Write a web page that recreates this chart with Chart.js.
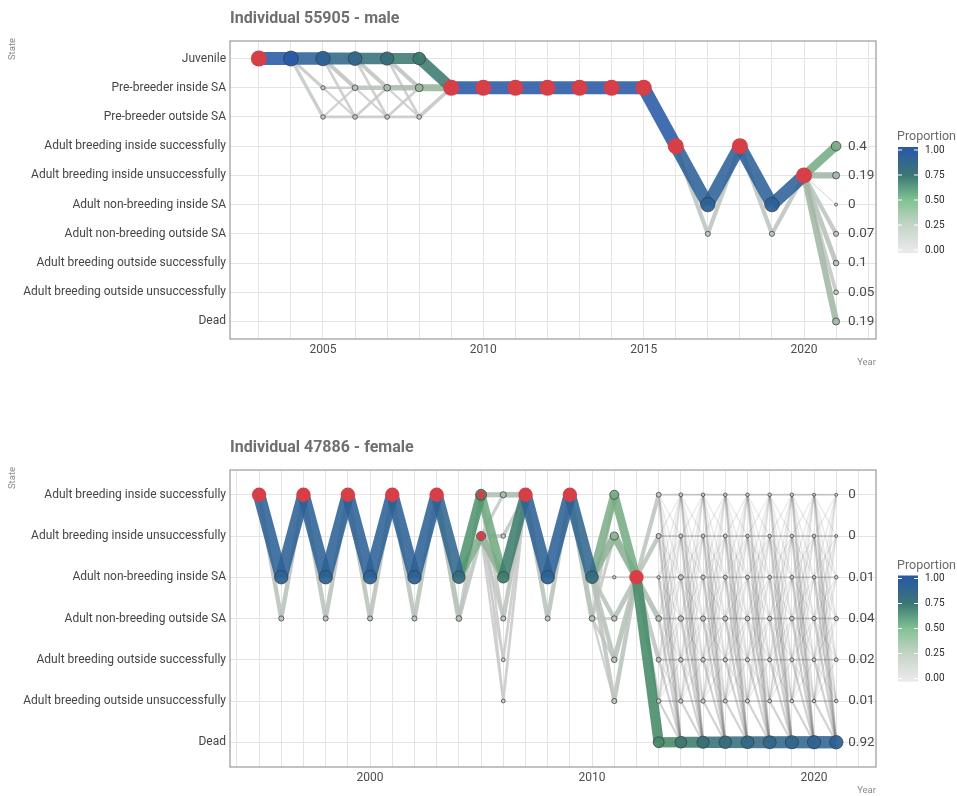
<!DOCTYPE html>
<html lang="en">
<head>
<meta charset="UTF-8">
<title>State trajectories of two individuals</title>
<script src="https://cdn.jsdelivr.net/npm/chart.js"></script>
<style>
  body { margin: 0; background: #fff; }
  canvas { position: absolute; left: 0; }
  #maleChart { top: 0; }
  #femaleChart { top: 400px; }
</style>
</head>
<body>
<canvas id="maleChart" width="957" height="400"></canvas>
<canvas id="femaleChart" width="957" height="396"></canvas>
<script>
const _ = null;

// ---------- Individual 55905 - male ----------
const maleStates = [
  'Juvenile', 'Pre-breeder inside SA', 'Pre-breeder outside SA',
  'Adult breeding inside successfully', 'Adult breeding inside unsuccessfully',
  'Adult non-breeding inside SA', 'Adult non-breeding outside SA',
  'Adult breeding outside successfully', 'Adult breeding outside unsuccessfully', 'Dead'
];
const maleYears = [2003, 2004, 2005, 2006, 2007, 2008, 2009, 2010, 2011, 2012,
                   2013, 2014, 2015, 2016, 2017, 2018, 2019, 2020, 2021];
// observed states: [year, state index, marker size]
const maleObserved = [
  [2003, 0, 1], [2009, 1, 1], [2010, 1, 1], [2011, 1, 1], [2012, 1, 1], [2013, 1, 1],
  [2014, 1, 1], [2015, 1, 1], [2016, 3, 1], [2018, 3, 1], [2020, 4, 1]
];
// estimated proportion per state, one row per year (null row = observed year)
const maleProps = [
  _,
  [1, _, _, _, _, _, _, _, _, _],
  [0.93, 0.03, 0.04, _, _, _, _, _, _, _],
  [0.85, 0.1, 0.05, _, _, _, _, _, _, _],
  [0.78, 0.17, 0.05, _, _, _, _, _, _, _],
  [0.7, 0.25, 0.05, _, _, _, _, _, _, _],
  _, _, _, _, _, _, _, _,
  [_, _, _, _, _, 0.93, 0.07, _, _, _],
  _,
  [_, _, _, _, _, 0.93, 0.07, _, _, _],
  _,
  [_, _, _, 0.4, 0.19, 0, 0.07, 0.1, 0.05, 0.19]
];
// transitions: [from year, from state, to state (next year), proportion]
const maleLinks = [
  [2003, 0, 0, 1],
  [2004, 0, 0, 0.93], [2004, 0, 1, 0.03], [2004, 0, 2, 0.04],
  [2005, 0, 0, 0.85], [2005, 0, 1, 0.07], [2005, 0, 2, 0.02], [2005, 1, 1, 0.02],
  [2005, 1, 2, 0.01], [2005, 2, 1, 0.01], [2005, 2, 2, 0.02],
  [2006, 0, 0, 0.78], [2006, 0, 1, 0.06], [2006, 0, 2, 0.02], [2006, 1, 1, 0.08],
  [2006, 1, 2, 0.01], [2006, 2, 1, 0.02], [2006, 2, 2, 0.02],
  [2007, 0, 0, 0.7], [2007, 0, 1, 0.07], [2007, 0, 2, 0.02], [2007, 1, 1, 0.15],
  [2007, 1, 2, 0.01], [2007, 2, 1, 0.02], [2007, 2, 2, 0.02],
  [2008, 0, 1, 0.7], [2008, 1, 1, 0.25], [2008, 2, 1, 0.05],
  [2009, 1, 1, 1], [2010, 1, 1, 1], [2011, 1, 1, 1], [2012, 1, 1, 1],
  [2013, 1, 1, 1], [2014, 1, 1, 1], [2015, 1, 3, 1],
  [2016, 3, 5, 0.93], [2016, 3, 6, 0.07],
  [2017, 5, 3, 0.93], [2017, 6, 3, 0.07],
  [2018, 3, 5, 0.93], [2018, 3, 6, 0.07],
  [2019, 5, 4, 0.93], [2019, 6, 4, 0.07],
  [2020, 4, 3, 0.4], [2020, 4, 4, 0.19], [2020, 4, 5, 0], [2020, 4, 6, 0.07],
  [2020, 4, 7, 0.1], [2020, 4, 8, 0.05], [2020, 4, 9, 0.19]
];

// ---------- Individual 47886 - female ----------
const femaleStates = [
  'Adult breeding inside successfully', 'Adult breeding inside unsuccessfully',
  'Adult non-breeding inside SA', 'Adult non-breeding outside SA',
  'Adult breeding outside successfully', 'Adult breeding outside unsuccessfully', 'Dead'
];
const femaleYears = [1995, 1996, 1997, 1998, 1999, 2000, 2001, 2002, 2003, 2004, 2005,
                     2006, 2007, 2008, 2009, 2010, 2011, 2012, 2013, 2014, 2015, 2016,
                     2017, 2018, 2019, 2020, 2021];
const femaleObserved = [
  [1995, 0, 1], [1997, 0, 1], [1999, 0, 1], [2001, 0, 1], [2003, 0, 1],
  [2005, 0, 0.55], [2005, 1, 0.55], [2007, 0, 1], [2009, 0, 1], [2012, 2, 1]
];
const femaleProps = [
  _,
  [_, _, 0.92, 0.08, _, _, _],
  _,
  [_, _, 0.92, 0.08, _, _, _],
  _,
  [_, _, 0.92, 0.08, _, _, _],
  _,
  [_, _, 0.92, 0.08, _, _, _],
  _,
  [_, _, 0.8, 0.12, _, _, _],
  [0.6, 0.4, _, _, _, _, _],
  [0.15, 0.05, 0.68, 0.08, 0.02, 0.02, _],
  _,
  [_, _, 0.92, 0.08, _, _, _],
  _,
  [_, _, 0.8, 0.12, _, _, _],
  [0.4, 0.3, 0.005, 0.1, 0.11, 0.08, _],
  _,
  [0.07, 0.08, 0.005, 0.12, 0.07, 0.05, 0.6],
  [0.02, 0.03, 0.08, 0.1, 0.05, 0.04, 0.7],
  [0.01, 0.02, 0.04, 0.08, 0.05, 0.04, 0.76],
  [0.01, 0.02, 0.03, 0.07, 0.04, 0.03, 0.8],
  [0.01, 0.01, 0.03, 0.06, 0.03, 0.03, 0.83],
  [0.01, 0.01, 0.02, 0.05, 0.03, 0.02, 0.86],
  [0.01, 0.01, 0.02, 0.05, 0.02, 0.01, 0.88],
  [0, 0.01, 0.01, 0.04, 0.02, 0.01, 0.9],
  [0, 0, 0.01, 0.04, 0.02, 0.01, 0.92]
];
const femaleLinks = [
  [1995, 0, 2, 0.92], [1995, 0, 3, 0.08], [1996, 2, 0, 0.92], [1996, 3, 0, 0.08],
  [1997, 0, 2, 0.92], [1997, 0, 3, 0.08], [1998, 2, 0, 0.92], [1998, 3, 0, 0.08],
  [1999, 0, 2, 0.92], [1999, 0, 3, 0.08], [2000, 2, 0, 0.92], [2000, 3, 0, 0.08],
  [2001, 0, 2, 0.92], [2001, 0, 3, 0.08], [2002, 2, 0, 0.92], [2002, 3, 0, 0.08],
  [2003, 0, 2, 0.88], [2003, 0, 3, 0.12],
  [2004, 2, 0, 0.55], [2004, 2, 1, 0.33], [2004, 3, 0, 0.05], [2004, 3, 1, 0.07],
  [2005, 0, 2, 0.42], [2005, 0, 0, 0.12], [2005, 0, 3, 0.04], [2005, 0, 4, 0.01],
  [2005, 0, 5, 0.01], [2005, 1, 2, 0.26], [2005, 1, 1, 0.05], [2005, 1, 0, 0.03],
  [2005, 1, 3, 0.04], [2005, 1, 4, 0.01], [2005, 1, 5, 0.01],
  [2006, 2, 0, 0.68], [2006, 0, 0, 0.15], [2006, 1, 0, 0.05], [2006, 3, 0, 0.08],
  [2006, 4, 0, 0.02], [2006, 5, 0, 0.02],
  [2007, 0, 2, 0.92], [2007, 0, 3, 0.08], [2008, 2, 0, 0.92], [2008, 3, 0, 0.08],
  [2009, 0, 2, 0.88], [2009, 0, 3, 0.12],
  [2010, 2, 0, 0.36], [2010, 2, 1, 0.27], [2010, 2, 2, 0.005], [2010, 2, 3, 0.08],
  [2010, 2, 4, 0.09], [2010, 2, 5, 0.07], [2010, 3, 0, 0.04], [2010, 3, 1, 0.03],
  [2010, 3, 3, 0.02], [2010, 3, 4, 0.02], [2010, 3, 5, 0.01],
  [2011, 0, 2, 0.4], [2011, 1, 2, 0.3], [2011, 2, 2, 0.005], [2011, 3, 2, 0.1],
  [2011, 4, 2, 0.11], [2011, 5, 2, 0.08],
  [2012, 2, 0, 0.07], [2012, 2, 1, 0.08], [2012, 2, 2, 0.005], [2012, 2, 3, 0.12],
  [2012, 2, 4, 0.07], [2012, 2, 5, 0.05], [2012, 2, 6, 0.6],
  [2013, 6, 6, 0.6], [2014, 6, 6, 0.7], [2015, 6, 6, 0.76], [2016, 6, 6, 0.8],
  [2017, 6, 6, 0.83], [2018, 6, 6, 0.86], [2019, 6, 6, 0.88], [2020, 6, 6, 0.9]
];
// from this year on every reachable state is linked to every state of the next year
const femaleWebFrom = 2013;

// colours
const markStops = [[0, [204, 204, 204]], [0.2, [160, 182, 163]], [0.45, [108, 170, 124]],
                   [0.6, [68, 138, 104]], [0.75, [56, 114, 116]], [1, [40, 90, 166]]];
const legendStops = [[0, [232, 232, 232]], [0.25, [197, 212, 199]], [0.5, [128, 194, 146]],
                     [0.75, [60, 118, 116]], [1, [42, 90, 164]]];
const RED = '#d63f48';
const GRID = '#e4e4e4';

function mix(stops, p) {
  p = Math.max(0, Math.min(1, p));
  for (let i = 1; i < stops.length; i++) {
    if (p <= stops[i][0]) {
      const [p0, c0] = stops[i - 1], [p1, c1] = stops[i];
      const t = (p - p0) / (p1 - p0);
      return c0.map((v, k) => v + (c1[k] - v) * t);
    }
  }
  return stops[stops.length - 1][1];
}
function rgba(c, a) {
  return `rgba(${Math.round(c[0])},${Math.round(c[1])},${Math.round(c[2])},${a})`;
}

function segment(x0, s0, x1, s1, color, width) {
  return {
    data: [{ x: x0, y: s0 }, { x: x1, y: s1 }],
    showLine: true, borderColor: color, borderWidth: width,
    borderCapStyle: 'butt', pointRadius: 0, pointHoverRadius: 0, fill: false
  };
}

const extras = {
  id: 'extras',
  afterDraw(chart) {
    const c = chart.options.plugins.extras;
    const ctx = chart.ctx;
    const a = chart.chartArea;
    const xs = chart.scales.x, ys = chart.scales.y;
    ctx.save();
    // panel border
    ctx.strokeStyle = '#9a9a9a';
    ctx.lineWidth = 1.2;
    ctx.strokeRect(a.left, a.top, a.right - a.left, a.bottom - a.top);
    // title
    ctx.fillStyle = '#6f6f6f';
    ctx.font = 'bold 16px Roboto';
    ctx.textAlign = 'left';
    ctx.textBaseline = 'middle';
    ctx.fillText(c.title, a.left, a.top - 22);
    // axis titles
    ctx.fillStyle = '#8a8a8a';
    ctx.font = '9.5px Roboto';
    ctx.textAlign = 'right';
    ctx.fillText('Year', a.right, a.bottom + 24);
    ctx.save();
    ctx.translate(13, a.top + 8);
    ctx.rotate(-Math.PI / 2);
    ctx.textAlign = 'center';
    ctx.fillText('State', 0, 0);
    ctx.restore();
    // end-of-series proportions
    const last = c.props[c.props.length - 1];
    const lastYear = c.years[c.years.length - 1];
    ctx.fillStyle = '#4a4a4a';
    ctx.font = '13.5px Roboto';
    ctx.textAlign = 'left';
    last.forEach((p, s) => {
      if (p === null) return;
      ctx.fillText(String(+p.toFixed(2)), xs.getPixelForValue(lastYear) + 12, ys.getPixelForValue(s));
    });
    // colour bar legend
    const mid = (a.top + a.bottom) / 2 + 10;
    const bx = 898, bw = 20;
    const y1 = mid - 50, y0 = mid + 50;
    ctx.fillStyle = '#6a6a6a';
    ctx.font = '12.5px Roboto';
    ctx.fillText('Proportion', 897, mid - 63);
    const g = ctx.createLinearGradient(0, y0, 0, y1);
    legendStops.forEach(([p, col]) => g.addColorStop(p, rgba(col, 1)));
    ctx.fillStyle = g;
    ctx.fillRect(bx, y1 - 3, bw, 106);
    ctx.strokeStyle = '#ffffff';
    ctx.lineWidth = 1;
    ctx.fillStyle = '#2b2b2b';
    ctx.font = '10px Roboto';
    [0, 0.25, 0.5, 0.75, 1].forEach(v => {
      const y = y0 - v * 100;
      ctx.beginPath();
      ctx.moveTo(bx, y); ctx.lineTo(bx + 4, y);
      ctx.moveTo(bx + bw - 4, y); ctx.lineTo(bx + bw, y);
      ctx.stroke();
      ctx.fillText(v.toFixed(2), 925, y);
    });
    ctx.restore();
  }
};

function buildChart(id, c) {
  const dead = c.states.indexOf('Dead');
  const lastYear = c.years[c.years.length - 1];
  const rowOf = yr => c.props[c.years.indexOf(yr)];

  // estimated states
  const pts = [], pr = [], pf = [];
  c.years.forEach((yr, i) => {
    const row = c.props[i];
    if (!row) return;
    row.forEach((p, s) => {
      if (p === null) return;
      pts.push({ x: yr, y: s });
      pr.push(1.5 + (c.rMax - 1.5) * Math.pow(p, 0.65));
      pf.push(rgba(mix(markStops, p), 0.95));
    });
  });

  const links = c.links.slice().sort((l1, l2) => l2[3] - l1[3]).map(l =>
    segment(l[0], l[1], l[0] + 1, l[2], rgba(mix(markStops, l[3]), 0.88), 1 + 12 * Math.sqrt(l[3])));

  // faint web between all reachable states (drawn underneath)
  const webStrong = [], web = [];
  if (c.webFrom) {
    for (let yr = c.webFrom; yr < lastYear; yr++) {
      const from = rowOf(yr), to = rowOf(yr + 1);
      from.forEach((pa, s0) => {
        if (pa === null || s0 === dead) return;
        to.forEach((pb, s1) => {
          if (pb === null) return;
          if (c.links.some(l => l[0] === yr && l[1] === s0 && l[2] === s1)) return;
          if (s1 === dead) webStrong.push(segment(yr, s0, yr + 1, s1, 'rgba(105,105,105,0.3)', 2.2));
          else if (s1 === s0) webStrong.push(segment(yr, s0, yr + 1, s1, 'rgba(110,110,110,0.28)', 2));
          else web.push(segment(yr, s0, yr + 1, s1, 'rgba(120,120,120,0.16)', 1.4));
        });
      });
    }
  }

  const datasets = [
    {
      data: c.observed.map(o => ({ x: o[0], y: o[1] })),
      pointRadius: c.observed.map(o => c.rRed * o[2]),
      pointBackgroundColor: RED, pointBorderWidth: 0, pointHoverRadius: 0
    },
    {
      data: pts, pointRadius: pr, pointBackgroundColor: pf,
      pointBorderColor: 'rgba(60,60,60,0.75)', pointBorderWidth: 1, pointHoverRadius: 0
    },
    ...links, ...webStrong, ...web
  ];

  return new Chart(document.getElementById(id), {
    type: 'scatter',
    data: { datasets },
    options: {
      responsive: false,
      animation: false,
      events: [],
      layout: { padding: { left: 0, right: 957 - 876, top: c.padTop, bottom: c.padBottom } },
      plugins: {
        legend: { display: false },
        tooltip: { enabled: false },
        extras: c
      },
      scales: {
        x: {
          type: 'linear', min: c.xMin, max: c.xMax,
          grid: { color: GRID, lineWidth: 1, drawTicks: false },
          border: { display: false },
          ticks: {
            stepSize: 1, autoSkip: false, includeBounds: false, maxRotation: 0, padding: 4,
            font: { family: 'Roboto', size: 12 }, color: '#4d4d4d',
            callback: v => (v % c.labelEvery === 0 ? String(v) : '')
          },
          afterFit: s => { s.height = 20; }
        },
        y: {
          type: 'linear', reverse: true, min: -0.6, max: c.states.length - 1 + 0.6,
          grid: { color: GRID, lineWidth: 1, drawTicks: false },
          border: { display: false },
          ticks: {
            stepSize: 1, autoSkip: false, includeBounds: false, padding: 4,
            font: { family: 'Roboto', size: 12 }, color: '#454545',
            callback: v => (c.states[v] !== undefined ? c.states[v] : '')
          },
          afterFit: s => { s.width = 230; }
        }
      }
    },
    plugins: [extras]
  });
}

buildChart('maleChart', {
  title: 'Individual 55905 - male',
  states: maleStates, years: maleYears, observed: maleObserved,
  props: maleProps, links: maleLinks, webFrom: null,
  xMin: 2002.1, xMax: 2022.245, labelEvery: 5,
  rMax: 7.5, rRed: 8, padTop: 41, padBottom: 41
});

buildChart('femaleChart', {
  title: 'Individual 47886 - female',
  states: femaleStates, years: femaleYears, observed: femaleObserved,
  props: femaleProps, links: femaleLinks, webFrom: femaleWebFrom,
  xMin: 1993.69, xMax: 2022.79, labelEvery: 10,
  rMax: 7, rRed: 7.2, padTop: 70, padBottom: 9
});
</script>
</body>
</html>
